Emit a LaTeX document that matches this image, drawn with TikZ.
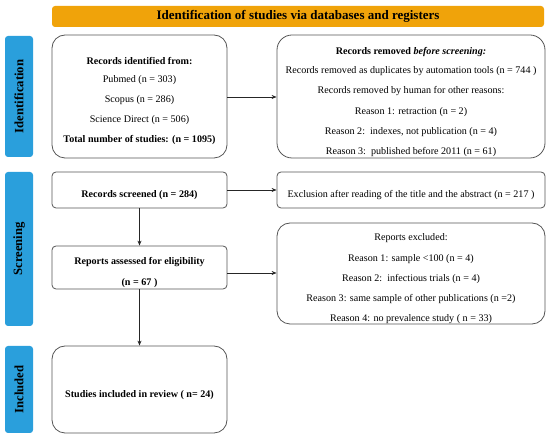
\documentclass[tikz,border=0pt]{standalone}
\usepackage{fontspec}
\setmainfont{Liberation Serif}
\usetikzlibrary{arrows.meta}
\definecolor{hdrorange}{HTML}{F0A30A}
\definecolor{sideblue}{HTML}{2A9FDC}
\definecolor{boxline}{HTML}{555555}
\begin{document}
\begin{tikzpicture}[x=1pt,y=-1pt,
  box/.style={draw=boxline, line width=0.8pt, fill=white},
  side/.style={fill=sideblue, rounded corners=3pt},
  sidetext/.style={rotate=90, font=\bfseries\fontsize{12.7}{14}\selectfont, text=black},
  txt/.style={font=\fontsize{10.1}{12}\selectfont, inner sep=0pt},
  btxt/.style={font=\bfseries\fontsize{10.1}{12}\selectfont, inner sep=0pt},
  arr/.style={-{Stealth[length=5pt,width=4pt]}, line width=0.7pt, draw=black!85}]
\useasboundingbox (0,0) rectangle (550,438);
% header
\node[fill=hdrorange, rounded corners=3pt, minimum width=492pt, minimum height=21pt, inner sep=0pt,
  font=\bfseries\fontsize{13}{15}\selectfont] (hdr) at (298,16.5) {Identification of studies via databases and registers};
% side labels
\node[side, minimum width=121pt, minimum height=28pt, rotate=90, inner sep=0pt] (sid) at (19,96.5) {};
\node[sidetext] (sidt) at (sid.center) {Identification};
\node[side, minimum width=154pt, minimum height=28pt, rotate=90, inner sep=0pt] (ssc) at (19,249) {};
\node[sidetext] (ssct) at (ssc.center) {Screening};
\node[side, minimum width=87pt, minimum height=28pt, rotate=90, inner sep=0pt] (sin) at (19,389.5) {};
\node[sidetext] (sint) at (sin.center) {Included};
% boxes
\node[box, rounded corners=13pt, minimum width=175pt, minimum height=123pt, inner sep=0pt] (rid) at (139.5,96.5) {};
\node[btxt] (rid1) at (139.5,61) {Records identified from:};
\node[txt] (rid2) at (139.5,80) {Pubmed (n = 303)};
\node[txt] (rid3) at (139.5,100) {Scopus (n = 286)};
\node[txt] (rid4) at (139.5,120) {Science Direct (n = 506)};
\node[btxt] (rid5) at (139.5,140) {Total number of studies: (n = 1095)};

\node[box, rounded corners=15pt, minimum width=268pt, minimum height=123pt, inner sep=0pt] (rrm) at (411,96.5) {};
\node[btxt] (rrm1) at (411,52) {Records removed \textit{before screening:}};
\node[txt] (rrm2) at (411,71.5) {Records removed as duplicates by automation tools (n = 744 )};
\node[txt] (rrm3) at (411,91.5) {Records removed by human for other reasons:};
\node[txt] (rrm4) at (411,112) {Reason 1: retraction (n = 2)};
\node[txt] (rrm5) at (411,132) {Reason 2:\ \ indexes, not publication (n = 4)};
\node[txt] (rrm6) at (411,152.5) {Reason 3:\ \ published before 2011 (n = 61)};

\node[box, rounded corners=4pt, minimum width=175pt, minimum height=36pt, inner sep=0pt] (rsc) at (139.5,190) {};
\node[btxt] (rsct) at (139.5,195) {Records screened (n = 284)};

\node[box, rounded corners=4pt, minimum width=268pt, minimum height=36pt, inner sep=0pt] (exc) at (411,190) {};
\node[txt] (exct) at (411,195) {Exclusion after reading of the title and the abstract (n = 217 )};

\node[box, rounded corners=4pt, minimum width=175pt, minimum height=43pt, inner sep=0pt] (ras) at (139.5,267.5) {};
\node[btxt] (ras1) at (139.5,262.5) {Reports assessed for eligibility};
\node[btxt] (ras2) at (139.5,283) {(n = 67 )};

\node[box, rounded corners=13pt, minimum width=268pt, minimum height=101pt, inner sep=0pt] (rex) at (411,273.5) {};
\node[txt] (rex1) at (411,238.5) {Reports excluded:};
\node[txt] (rex2) at (411,259) {Reason 1: sample <100 (n = 4)};
\node[txt] (rex3) at (411,279) {Reason 2:\ \ infectious trials (n = 4)};
\node[txt] (rex4) at (411,299.5) {Reason 3: same sample of other publications (n =2)};
\node[txt] (rex5) at (411,319.5) {Reason 4: no prevalence study ( n = 33)};

\node[box, rounded corners=13pt, minimum width=175pt, minimum height=87pt, inner sep=0pt] (sin2) at (139.5,389.5) {};
\node[btxt] (sint2) at (139.5,395) {Studies included in review ( n= 24)};
% arrows
\draw[arr] (rid.east |- 0,97) -- (rrm.west |- 0,97);
\draw[arr] (rsc.east |- 0,190) -- (exc.west |- 0,190);
\draw[arr] (ras.east |- 0,273) -- (rex.west |- 0,273);
\draw[arr] (rsc.south) -- (ras.north);
\draw[arr] (ras.south) -- (sin2.north);
\end{tikzpicture}
\end{document}
